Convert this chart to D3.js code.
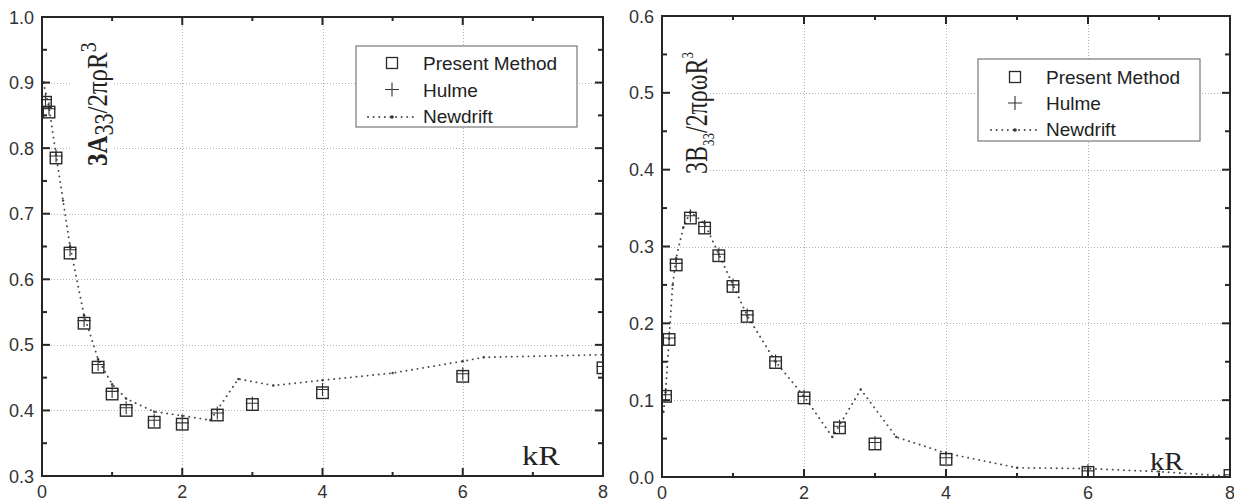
<!DOCTYPE html>
<html>
<head>
<meta charset="utf-8">
<script src="https://cdn.jsdelivr.net/npm/d3@7"></script>
<style>
  html, body { margin: 0; padding: 0; background: #fff; }
  svg { display: block; }
</style>
</head>
<body>
<div id="chart"></div>
<script>
// kR sample points shared by the two computed series
const kR = [0.05, 0.1, 0.2, 0.4, 0.6, 0.8, 1.0, 1.2, 1.6, 2.0, 2.5, 3.0, 4.0, 6.0, 8.0]

// added mass 3A33/2πρR³
const a33Present = [0.870, 0.855, 0.785, 0.640, 0.533, 0.466, 0.425, 0.400, 0.382, 0.379, 0.393, 0.409, 0.427, 0.452, 0.465]
const a33Hulme   = [0.874, 0.860, 0.788, 0.645, 0.537, 0.470, 0.429, 0.404, 0.385, 0.381, 0.396, 0.411, 0.432, 0.456, 0.467]
const a33DriftK  = [0.02, 0.1, 0.2, 0.3, 0.4, 0.6, 0.8, 1.0, 1.2, 1.6, 2.0, 2.4, 2.8, 3.3, 4.0, 5.0, 6.0, 6.3, 8.0]
const a33Drift   = [0.900, 0.862, 0.790, 0.720, 0.650, 0.545, 0.478, 0.440, 0.418, 0.398, 0.392, 0.385, 0.448, 0.438, 0.446, 0.457, 0.475, 0.481, 0.485]

// damping 3B33/2πρωR³
const b33Present = [0.105, 0.179, 0.276, 0.337, 0.324, 0.288, 0.248, 0.209, 0.149, 0.103, 0.064, 0.043, 0.023, 0.006, 0.002]
const b33Hulme   = [0.107, 0.181, 0.278, 0.340, 0.326, 0.290, 0.250, 0.211, 0.151, 0.105, 0.066, 0.045, 0.025, 0.008, 0.003]
const b33DriftK  = [0.02, 0.05, 0.1, 0.15, 0.2, 0.3, 0.4, 0.6, 0.8, 1.0, 1.2, 1.6, 2.0, 2.4, 2.8, 3.3, 4.0, 5.0, 6.0, 7.0, 8.0]
const b33Drift   = [0.085, 0.110, 0.180, 0.250, 0.285, 0.325, 0.345, 0.330, 0.290, 0.250, 0.210, 0.150, 0.105, 0.052, 0.114, 0.052, 0.031, 0.012, 0.011, 0.007, 0.001]

const xTicks = [0, 2, 4, 6, 8]
const a33Ticks = [0.3, 0.4, 0.5, 0.6, 0.7, 0.8, 0.9, 1.0]
const b33Ticks = [0.0, 0.1, 0.2, 0.3, 0.4, 0.5, 0.6]
const legendNames = ["Present Method", "Hulme", "Newdrift"]

const W = 1234, H = 504
const sans = "'Liberation Sans', Arial, sans-serif"
const serif = "'Liberation Serif', 'Times New Roman', serif"
const ink = "#262626"

const svg = d3.select("#chart").append("svg")
  .attr("width", W).attr("height", H)
  .attr("viewBox", `0 0 ${W} ${H}`)

function panel(cfg) {
  const x = d3.scaleLinear().domain([0, 8]).range([cfg.left, cfg.right])
  const y = d3.scaleLinear().domain(cfg.yDomain).range([cfg.bottom, cfg.top])
  const g = svg.append("g")

  const clipId = "clip-" + cfg.id
  svg.append("clipPath").attr("id", clipId)
    .append("rect")
    .attr("x", cfg.left).attr("y", cfg.top)
    .attr("width", cfg.right - cfg.left).attr("height", cfg.bottom - cfg.top)

  // dotted grid
  const grid = g.append("g")
    .attr("stroke", "#b4b4b4").attr("stroke-width", 1)
    .attr("stroke-dasharray", "1,2")
  grid.selectAll("line.gx").data(xTicks.slice(1, -1)).join("line")
    .attr("x1", d => Math.round(x(d)) + 0.5).attr("x2", d => Math.round(x(d)) + 0.5)
    .attr("y1", cfg.top).attr("y2", cfg.bottom)
  grid.selectAll("line.gy").data(cfg.yTicks.slice(1, -1)).join("line")
    .attr("x1", cfg.left).attr("x2", cfg.right)
    .attr("y1", d => Math.round(y(d)) + 0.5).attr("y2", d => Math.round(y(d)) + 0.5)

  // white box behind the rotated title hides the grid there
  g.append("rect")
    .attr("x", cfg.titleBox[0]).attr("y", cfg.titleBox[1])
    .attr("width", cfg.titleBox[2]).attr("height", cfg.titleBox[3])
    .attr("fill", "#fff")

  const plot = g.append("g").attr("clip-path", `url(#${clipId})`)

  // Newdrift dotted line
  const line = d3.line().x(d => x(d[0])).y(d => y(d[1]))
  const drift = d3.zip(cfg.driftK, cfg.drift)
  plot.append("path")
    .attr("d", line(drift))
    .attr("fill", "none")
    .attr("stroke", "#4a4a4a")
    .attr("stroke-width", 1.9)
    .attr("stroke-linecap", "round")
    .attr("stroke-dasharray", "0.1,5.5")
  plot.selectAll("circle.drift").data(drift).join("circle")
    .attr("cx", d => x(d[0])).attr("cy", d => y(d[1]))
    .attr("r", 1.2).attr("fill", "#444")

  // Hulme crosses
  const s = 6.5
  plot.selectAll("path.hulme").data(d3.zip(kR, cfg.hulme)).join("path")
    .attr("d", d => {
      const px = x(d[0]), py = y(d[1])
      return `M${px - s},${py}H${px + s}M${px},${py - s}V${py + s}`
    })
    .attr("stroke", "#333").attr("stroke-width", 1.1).attr("fill", "none")

  // Present Method squares
  const q = 11.5
  plot.selectAll("rect.present").data(d3.zip(kR, cfg.present)).join("rect")
    .attr("x", d => x(d[0]) - q / 2).attr("y", d => y(d[1]) - q / 2)
    .attr("width", q).attr("height", q)
    .attr("fill", "none").attr("stroke", "#2a2a2a").attr("stroke-width", 1.4)

  // ticks (inward, all four sides)
  const ticks = g.append("g").attr("stroke", ink).attr("stroke-width", 2)
  const xMinor = d3.range(1, 8, 2)
  const yStep = cfg.yTicks[1] - cfg.yTicks[0]
  const yMinor = cfg.yTicks.slice(0, -1).map(v => v + yStep / 2)
  const tickSet = [
    ...xTicks.map(v => ({ v, len: 8, axis: "x" })),
    ...xMinor.map(v => ({ v, len: 4, axis: "x" })),
    ...cfg.yTicks.map(v => ({ v, len: 8, axis: "y" })),
    ...yMinor.map(v => ({ v, len: 5, axis: "y" }))
  ]
  tickSet.forEach(t => {
    if (t.axis === "x") {
      const px = x(t.v)
      ticks.append("line").attr("x1", px).attr("x2", px).attr("y1", cfg.bottom).attr("y2", cfg.bottom - t.len)
      ticks.append("line").attr("x1", px).attr("x2", px).attr("y1", cfg.top).attr("y2", cfg.top + t.len)
    } else {
      const py = y(t.v)
      ticks.append("line").attr("x1", cfg.left).attr("x2", cfg.left + t.len).attr("y1", py).attr("y2", py)
      ticks.append("line").attr("x1", cfg.right).attr("x2", cfg.right - t.len).attr("y1", py).attr("y2", py)
    }
  })

  // frame
  g.append("rect")
    .attr("x", cfg.left).attr("y", cfg.top)
    .attr("width", cfg.right - cfg.left).attr("height", cfg.bottom - cfg.top)
    .attr("fill", "none").attr("stroke", ink).attr("stroke-width", 2)

  // tick labels
  g.selectAll("text.xl").data(xTicks).join("text")
    .attr("x", d => x(d)).attr("y", cfg.bottom + 22)
    .attr("text-anchor", "middle")
    .attr("font-family", sans).attr("font-size", 18).attr("fill", "#333")
    .text(d => d)
  g.selectAll("text.yl").data(cfg.yTicks).join("text")
    .attr("x", cfg.left - 8).attr("y", d => y(d) + 6.5)
    .attr("text-anchor", "end")
    .attr("font-family", sans).attr("font-size", 18).attr("fill", "#333")
    .text(d => d.toFixed(1))

  // kR label
  g.append("text")
    .attr("transform", `translate(${cfg.kr[0]},${cfg.kr[1]}) scale(${cfg.kr[3]},1)`)
    .attr("font-family", serif).attr("font-size", cfg.kr[2]).attr("fill", "#222")
    .text("kR")

  // rotated y title with sub/superscripts
  const t = cfg.title
  const title = g.append("text")
    .attr("transform", `translate(${t.x},${t.y}) scale(${t.stretch},1) rotate(-90)`)
    .attr("font-family", serif).attr("font-size", t.size).attr("fill", "#222")
  t.parts.forEach(p => {
    title.append("tspan")
      .attr("font-size", p.size || t.size)
      .attr("font-weight", p.bold ? "bold" : null)
      .attr("dy", p.dy || 0)
      .text(p.text)
  })

  // legend
  const L = cfg.legend
  const lg = g.append("g")
  lg.append("rect")
    .attr("x", L.x).attr("y", L.y).attr("width", L.w).attr("height", L.h)
    .attr("fill", "#fff").attr("stroke", "#777").attr("stroke-width", 1.2)
  legendNames.forEach((name, i) => {
    const cy = L.y + L.first + i * L.gap
    lg.append("text")
      .attr("x", L.textX).attr("y", cy + 7)
      .attr("font-family", sans).attr("font-size", 19).attr("fill", "#222")
      .text(name)
    if (i === 0) {
      lg.append("rect")
        .attr("x", L.symX - 5.5).attr("y", cy - 5.5).attr("width", 11).attr("height", 11)
        .attr("fill", "none").attr("stroke", "#2a2a2a").attr("stroke-width", 1.3)
    } else if (i === 1) {
      lg.append("path")
        .attr("d", `M${L.symX - 7},${cy}H${L.symX + 7}M${L.symX},${cy - 7}V${cy + 7}`)
        .attr("stroke", "#333").attr("stroke-width", 1.1)
    } else {
      lg.append("line")
        .attr("x1", L.lineX[0]).attr("x2", L.lineX[1]).attr("y1", cy + 1).attr("y2", cy + 1)
        .attr("stroke", "#4a4a4a").attr("stroke-width", 1.9)
        .attr("stroke-linecap", "round").attr("stroke-dasharray", "0.1,5.5")
      lg.append("circle").attr("cx", L.symX).attr("cy", cy + 1).attr("r", 1.8).attr("fill", "#333")
    }
  })
}

panel({
  id: "a33", left: 42, right: 603, top: 17, bottom: 476,
  yDomain: [0.3, 1.0], yTicks: a33Ticks,
  present: a33Present, hulme: a33Hulme, driftK: a33DriftK, drift: a33Drift,
  titleBox: [72, 33, 41, 137],
  kr: [522, 465, 27, 1.2],
  title: {
    x: 107, y: 166, size: 25, stretch: 1.2,
    parts: [
      { text: "3A", bold: true },
      { text: "33", dy: 5, size: 22 },
      { text: "/2πρR", dy: -5 },
      { text: "3", dy: -9, size: 20 }
    ]
  },
  legend: { x: 356, y: 46, w: 221, h: 81, first: 17, gap: 26.5, symX: 392, textX: 423, lineX: [368, 418] }
})

panel({
  id: "b33", left: 662, right: 1230, top: 16, bottom: 477,
  yDomain: [0, 0.6], yTicks: b33Ticks,
  present: b33Present, hulme: b33Hulme, driftK: b33DriftK, drift: b33Drift,
  titleBox: [663, 35, 46, 142],
  kr: [1150, 470, 25, 1.15],
  title: {
    x: 707, y: 174, size: 24, stretch: 1.3,
    parts: [
      { text: "3B" },
      { text: "33", dy: 5, size: 13 },
      { text: "/2πρωR", dy: -5 },
      { text: "3", dy: -11, size: 13 }
    ]
  },
  legend: { x: 978, y: 59, w: 222, h: 82, first: 18, gap: 26, symX: 1015, textX: 1046, lineX: [991, 1041] }
})
</script>
</body>
</html>
